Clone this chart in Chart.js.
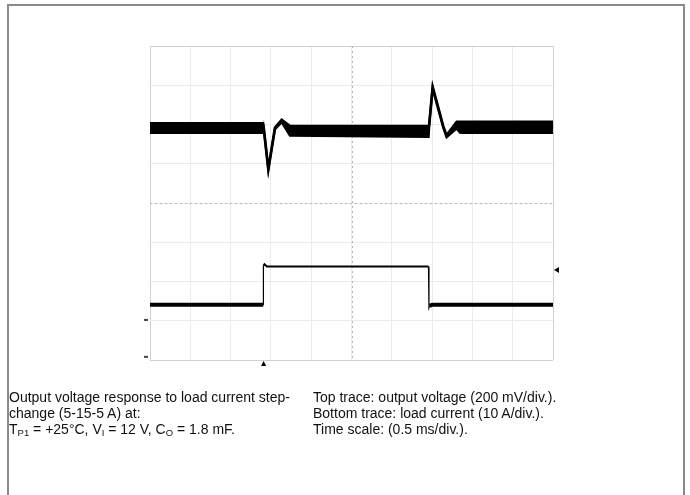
<!DOCTYPE html>
<html>
<head>
<meta charset="utf-8">
<script src="https://cdn.jsdelivr.net/npm/chart.js@4.4.1/dist/chart.umd.min.js"></script>
<style>
  html, body { margin: 0; padding: 0; background: #fff; }
  #wrap { position: relative; width: 690px; height: 495px; overflow: hidden; font-family: Arial, "Liberation Sans", sans-serif; }
  #frame { position: absolute; left: 7px; top: 4px; width: 674px; height: 520px; border: 2px solid #8a8a8a; }
  #scope { position: absolute; left: 0; top: 0; }
  .cap { position: absolute; top: 389px; font-size: 14px; line-height: 16px; color: #111; white-space: nowrap; }
  .cap sub { font-size: 9.5px; vertical-align: -2px; line-height: 0; }
</style>
</head>
<body>
<div id="wrap">
  <div id="frame"></div>
  <canvas id="scope" width="690" height="495"></canvas>
  <div class="cap" style="left:9px">Output voltage response to load current step-<br>change (5-15-5 A) at:<br>T<sub>P1</sub> = +25°C, V<sub>I</sub> = 12 V, C<sub>O</sub> = 1.8 mF.</div>
  <div class="cap" style="left:313px">Top trace: output voltage (200 mV/div.).<br>Bottom trace: load current (10 A/div.).<br>Time scale: (0.5 ms/div.).</div>
</div>
<script>
// time axis in ms (0.5 ms/div, 10 div), vertical axis in screen divisions (0..8)
const topTime  = [0, 1.400, 1.410, 1.468, 1.550, 1.634, 1.737, 3.455, 3.462, 3.507, 3.639, 3.680, 3.805, 3.850, 5.000];
const topUpper = [6.03, 6.03, 5.95, 4.88, 5.92, 6.12, 5.96, 5.96, 5.98, 6.97, 5.96, 5.73, 6.07, 6.07, 6.07];
const topLower = [5.79, 5.79, 5.90, 4.84, 5.88, 6.06, 5.72, 5.69, 5.92, 6.92, 5.92, 5.68, 5.90, 5.79, 5.79];

const botTime  = [0, 1.405, 1.407, 1.420, 1.450, 3.455, 3.461, 3.470, 3.500, 5.000];
const botValue = [1.41, 1.41, 2.40, 2.44, 2.38, 2.38, 1.33, 1.38, 1.41, 1.41];

// scope markers: right-edge level arrow, trigger arrow, channel markers
const markTime  = [5.05, 1.41, -0.05, -0.05];
const markValue = [2.29, -0.10, 1.02, 0.08];
const markKind  = ['left', 'up', 'dash', 'dash'];

const pts = (xs, ys) => xs.map((x, i) => ({ x, y: ys[i] }));

const centerLines = {
  id: 'centerLines',
  beforeDatasetsDraw(chart) {
    const { ctx, chartArea: a, scales: { x, y } } = chart;
    const cx = Math.round(x.getPixelForValue(2.5)) + 0.5;
    const cy = Math.round(y.getPixelForValue(4)) + 0.5;
    ctx.save();
    ctx.strokeStyle = '#b5b5b5';
    ctx.lineWidth = 1;
    ctx.setLineDash([2, 3]);
    ctx.beginPath();
    ctx.moveTo(cx, a.top); ctx.lineTo(cx, a.bottom);
    ctx.moveTo(a.left, cy); ctx.lineTo(a.right, cy);
    ctx.stroke();
    ctx.restore();
  }
};

const scopeMarks = {
  id: 'scopeMarks',
  afterDatasetsDraw(chart) {
    const { ctx, scales: { x, y } } = chart;
    ctx.save();
    markTime.forEach((t, i) => {
      const px = x.getPixelForValue(t), py = y.getPixelForValue(markValue[i]);
      ctx.beginPath();
      if (markKind[i] === 'left') {
        ctx.fillStyle = '#000';
        ctx.moveTo(px - 3, py); ctx.lineTo(px + 2, py - 3); ctx.lineTo(px + 2, py + 3);
      } else if (markKind[i] === 'up') {
        ctx.fillStyle = '#000';
        ctx.moveTo(px, py - 3); ctx.lineTo(px - 2.5, py + 2); ctx.lineTo(px + 2.5, py + 2);
      } else {
        ctx.fillStyle = '#444';
        ctx.rect(px - 2, py - 1, 4, 2);
      }
      ctx.closePath();
      ctx.fill();
    });
    ctx.restore();
  }
};

const segWidth = c => {
  const y0 = c.p0.parsed.y, y1 = c.p1.parsed.y;
  if (Math.abs(c.p1.parsed.x - c.p0.parsed.x) < 0.01) return 1.2;
  return (y0 < 1.8 && y1 < 1.8) ? 4 : 2;
};

new Chart(document.getElementById('scope'), {
  type: 'scatter',
  data: {
    datasets: [
      { data: pts(topTime, topUpper), showLine: true, borderColor: '#000', borderWidth: 2.5, pointRadius: 0, fill: false },
      { data: pts(topTime, topLower), showLine: true, borderColor: '#000', borderWidth: 2.5, pointRadius: 0, fill: '-1', backgroundColor: '#000' },
      { data: pts(botTime, botValue), showLine: true, borderColor: '#000', borderWidth: 2, pointRadius: 0,
        segment: { borderWidth: segWidth } }
    ]
  },
  options: {
    responsive: false,
    animation: false,
    events: [],
    layout: { padding: { left: 150, top: 46, right: 137, bottom: 135 } },
    plugins: { legend: { display: false }, tooltip: { enabled: false } },
    scales: {
      x: {
        type: 'linear', min: 0, max: 5,
        ticks: { display: false, stepSize: 0.5 },
        grid: { color: c => (c.tick.value === 0 || c.tick.value === 5) ? '#d2d2d2' : '#ebebeb', drawTicks: false },
        border: { display: false }
      },
      y: {
        type: 'linear', min: 0, max: 8,
        ticks: { display: false, stepSize: 1 },
        grid: { color: c => (c.tick.value === 0 || c.tick.value === 8) ? '#d2d2d2' : '#ebebeb', drawTicks: false },
        border: { display: false }
      }
    }
  },
  plugins: [centerLines, scopeMarks]
});
</script>
</body>
</html>
